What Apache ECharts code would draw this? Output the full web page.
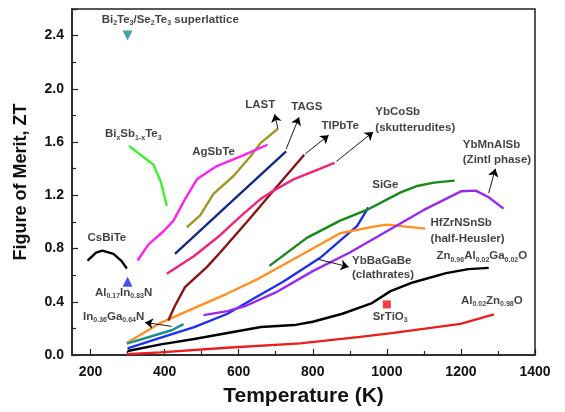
<!DOCTYPE html>
<html>
<head>
<meta charset="utf-8">
<script src="https://cdn.jsdelivr.net/npm/echarts@6/dist/echarts.min.js"></script>
<style>html,body{margin:0;padding:0;background:#fff;}#c{width:565px;height:412px;}</style>
</head>
<body>
<div id="c"></div>
<script>
// ---- data (Temperature K, ZT) ----
const superlattice = [[300, 2.40]];
const bixsbte = [[304,1.57],[370,1.43],[390,1.30],[406,1.12]];
const csbite = [[192,0.71],[215,0.77],[232,0.785],[262,0.76],[284,0.705],[298,0.65]];
const alinn = [[300,0.55]];
const ingan = [[298,0.085],[419,0.186],[451,0.232]];
const agsbte = [[327,0.71],[356,0.83],[397,0.93],[424,1.01],[451,1.15],[487,1.32],[541,1.42],[604,1.49],[678,1.58]];
const last = [[460,0.96],[496,1.05],[532,1.21],[586,1.345],[631,1.49],[658,1.59],[706,1.70]];
const tags = [[428,0.76],[580,1.15],[728,1.53]];
const tlpbte = [[410,0.26],[428,0.37],[455,0.51],[514,0.66],[550,0.77],[622,1.00],[700,1.255],[777,1.505]];
const ybcosb = [[406,0.61],[478,0.74],[550,0.90],[604,1.04],[658,1.17],[685,1.22],[748,1.32],[859,1.443]];
const sige = [[683,0.67],[784,0.88],[874,1.01],[946,1.09],[1036,1.22],[1082,1.27],[1127,1.295],[1183,1.31]];
const ybbagabe = [[300,0.05],[390,0.13],[480,0.21],[570,0.31],[650,0.44],[720,0.55],[820,0.73],[920,0.97],[950,1.11]];
const hfzrnsnsb = [[298,0.09],[388,0.24],[478,0.35],[568,0.46],[658,0.58],[748,0.72],[874,0.915],[964,0.965],[1000,0.98],[1104,0.95]];
const ybmnalsb = [[505,0.30],[570,0.33],[620,0.37],[700,0.47],[800,0.63],[900,0.77],[1000,0.93],[1100,1.09],[1200,1.23],[1240,1.235],[1275,1.185],[1315,1.10]];
const znalgao = [[300,0.03],[390,0.08],[480,0.12],[570,0.165],[660,0.21],[750,0.225],[800,0.25],[880,0.31],[960,0.39],[1010,0.48],[1070,0.545],[1160,0.615],[1220,0.645],[1275,0.655]];
const alzno = [[298,0.006],[388,0.02],[568,0.055],[766,0.087],[928,0.136],[1018,0.166],[1199,0.234],[1289,0.306]];
const srtio3 = [[1000,0.38]];

const xTicks = [200,400,600,800,1000,1200,1400];
const xMinorTicks = [300,500,700,900,1100,1300];

// annotation labels: [T, ZT, rich text, align]
const labelItems = [
  [230, 2.52, '{n|Bi}{s|2}{n|Te}{s|3}{n|/Se}{s|2}{n|Te}{s|3}{n| superlattice}', 'left'],
  [239, 1.66, '{n|Bi}{s|x}{n|Sb}{s|1-x}{n|Te}{s|3}', 'left'],
  [244, 0.88, '{n|CsBiTe}', 'center'],
  [212, 0.47, '{n|Al}{s|0.17}{n|In}{s|0.83}{n|N}', 'left'],
  [180, 0.29, '{n|In}{s|0.36}{n|Ga}{s|0.64}{n|N}', 'left'],
  [532, 1.53, '{n|AgSbTe}', 'center'],
  [658, 1.88, '{n|LAST}', 'center'],
  [784, 1.866, '{n|TAGS}', 'center'],
  [874, 1.72, '{n|TlPbTe}', 'center'],
  [969, 1.83, '{n|YbCoSb}', 'left'],
  [969, 1.71, '{n|(skutterudites)}', 'left'],
  [1205, 1.58, '{n|YbMnAlSb}', 'left'],
  [1205, 1.47, '{n|(Zintl phase)}', 'left'],
  [996, 1.28, '{n|SiGe}', 'center'],
  [1118, 0.99, '{n|HfZrNSnSb}', 'left'],
  [1118, 0.873, '{n|(half-Heusler)}', 'left'],
  [906, 0.706, '{n|YbBaGaBe}', 'left'],
  [906, 0.603, '{n|(clathrates)}', 'left'],
  [1134, 0.743, '{n|Zn}{s|0.96}{n|Al}{s|0.02}{n|Ga}{s|0.02}{n|O}', 'left'],
  [1200, 0.41, '{n|Al}{s|0.02}{n|Zn}{s|0.98}{n|O}', 'left'],
  [1009, 0.29, '{n|SrTiO}{s|3}', 'center']
];

// arrows: [from, to]
const arrows = [
  [[706,1.70],[697,1.81]],
  [[728,1.546],[763,1.787]],
  [[780,1.512],[843,1.652]],
  [[864,1.455],[963,1.676]],
  [[1275,1.217],[1293,1.40]],
  [[816,0.718],[897,0.662]],
  [[419,0.215],[347,0.245]]
];

const chart = echarts.init(document.getElementById('c'), null, {renderer: 'canvas'});
const FONT = 'Liberation Sans, Arial, sans-serif';

function line(name, data, color) {
  return {name, type: 'line', data, showSymbol: false, symbol: 'none', smooth: false,
    lineStyle: {color, width: 2.4}, itemStyle: {color}, z: 3, silent: true};
}

const series = [
  line('AlZnO', alzno, '#ee1c1c'),
  line('ZnAlGaO', znalgao, '#000000'),
  line('YbBaGaBe', ybbagabe, '#1f2ff0'),
  line('HfZrNSnSb', hfzrnsnsb, '#ff9020'),
  line('YbMnAlSb', ybmnalsb, '#9a28ee'),
  line('SiGe', sige, '#17881a'),
  line('InGaN', ingan, '#169084'),
  line('TlPbTe', tlpbte, '#8a1414'),
  line('YbCoSb', ybcosb, '#f0247a'),
  line('TAGS', tags, '#152a88'),
  line('LAST', last, '#9a9a22'),
  line('AgSbTe', agsbte, '#ff22ee'),
  line('BiSbTe', bixsbte, '#44ee30'),
  line('CsBiTe', csbite, '#000000'),
  {type: 'scatter', data: superlattice, symbol: 'triangle', symbolRotate: 180, symbolSize: 10, itemStyle: {color: '#14908a'}, z: 4},
  {type: 'scatter', data: alinn, symbol: 'triangle', symbolSize: 10, itemStyle: {color: '#1a22ee'}, z: 4},
  {type: 'scatter', data: srtio3, symbol: 'rect', symbolSize: 8, itemStyle: {color: '#ee1111'}, z: 4},
  {type: 'lines', coordinateSystem: 'cartesian2d', polyline: false, z: 5,
    data: arrows.map(a => ({coords: a})),
    lineStyle: {color: '#000', width: 0.9, opacity: 1},
    symbol: ['none', 'arrow'], symbolSize: 8},
  {type: 'scatter', symbolSize: 0, z: 6, silent: true,
    data: labelItems.map(l => ({value: [l[0], l[1]], label: {formatter: l[2], align: l[3]}})),
    label: {show: true, position: 'inside', verticalAlign: 'middle', color: '#000',
      rich: {
        n: {fontFamily: FONT, fontSize: 11.5, fontWeight: 'bold', color: '#111'},
        s: {fontFamily: FONT, fontSize: 7, fontWeight: 'bold', color: '#111', verticalAlign: 'bottom', padding: [7, 0, 0, 0]}
      }}}
];

const option = {
  backgroundColor: '#fff',
  animation: false,
  grid: {left: 72, right: 30, top: 9, bottom: 50, show: true, borderColor: '#222', borderWidth: 1.5, backgroundColor: 'transparent'},
  xAxis: [{
    type: 'value', min: 150, max: 1400,
    name: 'Temperature (K)', nameLocation: 'middle', nameGap: 31,
    nameTextStyle: {fontFamily: FONT, fontSize: 21, fontWeight: 'bold', color: '#111'},
    axisLine: {show: true, lineStyle: {color: '#222', width: 1.5}},
    axisTick: {show: true, inside: true, length: 6, customValues: xTicks, lineStyle: {color: '#222', width: 1.2}},
    axisLabel: {show: true, customValues: xTicks, fontFamily: FONT, fontSize: 14, fontWeight: 'bold', color: '#111', margin: 10,
      formatter: v => String(v)},
    splitLine: {show: false}
  }, {
    type: 'value', min: 150, max: 1400, position: 'bottom',
    axisLine: {show: false},
    axisTick: {show: true, inside: true, length: 4, customValues: xMinorTicks, lineStyle: {color: '#222', width: 1.2}},
    axisLabel: {show: false, customValues: xMinorTicks},
    splitLine: {show: false}
  }],
  yAxis: {
    type: 'value', min: 0, max: 2.6, interval: 0.4,
    name: 'Figure of Merit, ZT', nameLocation: 'middle', nameGap: 42, nameRotate: 90,
    nameTextStyle: {fontFamily: FONT, fontSize: 18, fontWeight: 'bold', color: '#111'},
    axisLine: {show: true, lineStyle: {color: '#222', width: 1.5}},
    axisTick: {show: true, inside: true, length: 6, lineStyle: {color: '#222', width: 1.2}},
    minorTick: {show: true, splitNumber: 2, length: 4, lineStyle: {color: '#222', width: 1.2}},
    axisLabel: {fontFamily: FONT, fontSize: 14, fontWeight: 'bold', color: '#111', margin: 8,
      formatter: v => v.toFixed(1), showMaxLabel: false},
    splitLine: {show: false}, minorSplitLine: {show: false}
  },
  series
};
chart.setOption(option);
</script>
</body>
</html>
